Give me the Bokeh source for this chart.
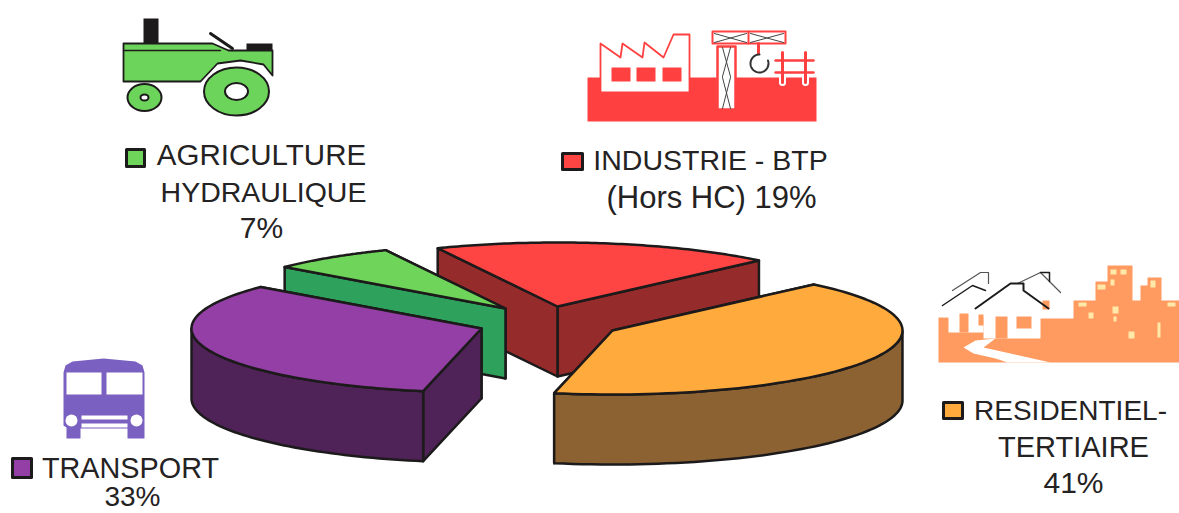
import numpy as np
from bokeh.embed import file_html
from bokeh.models import Range1d
from bokeh.plotting import figure
from bokeh.resources import INLINE
from bokeh.core.properties import value

# ---- data
categories = ["RESIDENTIEL-TERTIAIRE", "TRANSPORT", "AGRICULTURE HYDRAULIQUE", "INDUSTRIE - BTP (Hors HC)"]
shares = [41, 33, 7, 19]

# ---- pie styling / exploded centres
START_ANGLE = 46.0
RX, RY, DEPTH = 290, 64, 70
centres = [(612, 330), (481, 328), (505, 308), (557, 306)]
top_colors = ["#FFAA3C", "#933FA5", "#6FD45A", "#FF4444"]
side_colors = ["#8C6232", "#4F2358", "#2EA25C", "#962B2B"]
INK = "#1c1a1a"
paint_order = [3, 2, 1, 0]

p = figure(width=1179, height=513, output_backend="svg", toolbar_location=None,
           x_range=Range1d(0, 1179), y_range=Range1d(513, 0),
           x_axis_location=None, y_axis_location=None, min_border=0,
           outline_line_color=None, background_fill_color="white", border_fill_color="white")
p.xgrid.visible = False
p.ygrid.visible = False


def poly(pts, fill, line=None, w=1.5):
    xs, ys = zip(*pts)
    p.patch(list(xs), list(ys), fill_color=fill, line_color=line, line_width=w, line_join="round")


def rect(x0, y0, x1, y1, fill, line=None, w=1.5):
    poly([(x0, y0), (x1, y0), (x1, y1), (x0, y1)], fill, line, w)


def seg(pts, color=INK, w=1.5):
    xs, ys = zip(*pts)
    p.line(list(xs), list(ys), line_color=color, line_width=w, line_join="round", line_cap="round")


def oval(x, y, w, h, fill, line=None, lw=1.5):
    p.ellipse([x], [y], width=w, height=h, fill_color=fill, line_color=line, line_width=lw)


# ---- 3D pie: every slice angle comes from the shares
angles = [START_ANGLE]
for s in shares:
    angles.append(angles[-1] - s / sum(shares) * 360)

for i in paint_order:
    cx, cy = centres[i]
    t = np.radians(np.linspace(angles[i], angles[i + 1], 80))
    rx = cx + RX * np.cos(t)
    ry = cy - RY * np.sin(t)
    # radial walls
    for k in (-1, 0):
        poly([(cx, cy), (rx[k], ry[k]), (rx[k], ry[k] + DEPTH), (cx, cy + DEPTH)], side_colors[i], INK, 2.5)
    # outer wall (front half of the rim)
    front = np.sin(t) < 0
    if front.any():
        fx, fy = rx[front], ry[front]
        p.patch(list(fx) + list(fx[::-1]), list(fy) + list(fy[::-1] + DEPTH),
                fill_color=side_colors[i], line_color=INK, line_width=2.5, line_join="round")
    # top face
    p.patch([cx] + list(rx), [cy] + list(ry), fill_color=top_colors[i], line_color=INK,
            line_width=2.5, line_join="round")

# ---- tractor icon
G = "#6CD45A"
rect(143, 18, 158, 44, INK)
rect(246, 43, 272, 50, INK)
seg([(210, 33), (232, 48)], INK, 3)
poly([(123, 43), (212, 43), (228, 50), (272, 50), (272, 75), (263, 64), (240, 60), (217, 63), (200, 81), (123, 81)], G, INK, 1.8)
seg([(123, 50), (220, 50)], INK, 1.5)
oval(144, 97, 34, 27, G, INK, 2)
oval(144, 97, 8, 6, "white", INK, 2)
oval(236, 91, 65, 48, G, INK, 2)
oval(236, 91, 23, 17, "white", INK, 2)

# ---- factory icon
R = "#FF4040"
rect(587, 77, 816, 121, R)
poly([(600, 43), (600, 92), (689, 92), (689, 34), (673, 34), (663, 57), (644, 42), (642, 57), (622, 43), (620, 57)], "white", R, 1.8)
for x0 in (611, 636, 662):
    rect(x0, 67, x0 + 19, 81, R)
rect(717, 46, 735, 109, "white", R, 2.5)
for y0, y1 in ((47, 76), (77, 108)):
    seg([(722, y0), (730, y1)], "#444444", 1)
    seg([(730, y0), (722, y1)], "#444444", 1)
rect(712, 31, 785, 43, "white", R, 2)
seg([(748, 31), (748, 43)], R, 2)
for x0, x1 in ((714, 746), (750, 783)):
    seg([(x0, 33), (x1, 42)], "#444444", 1)
    seg([(x1, 33), (x0, 42)], "#444444", 1)
seg([(758, 43), (758, 53)], R, 3)
hook = np.radians(np.linspace(-20, 270, 40))
seg(list(zip(759 + 9 * np.cos(hook), 63 + 9 * np.sin(hook))), "#333333", 2)
for x0 in (782, 805):
    seg([(x0, 76), (x0, 82)], "white", 7)
    seg([(x0, 52), (x0, 82)], R, 3)
for y0 in (60, 72):
    seg([(775, y0), (813, y0)], R, 2.5)

# ---- city icon
C = "#FF9A60"
poly([(938, 362), (938, 317), (1040, 318), (1073, 318), (1073, 300), (1090, 300), (1095, 300), (1095, 281), (1107, 281),
      (1107, 265), (1132, 265), (1132, 300), (1140, 300), (1140, 285), (1147, 285), (1147, 277), (1161, 277),
      (1161, 300), (1179, 300), (1179, 362)], C)
poly([(1050, 362), (1010, 353), (983, 347), (995, 338), (975, 340), (963, 347), (973, 353), (995, 358), (1007, 362)], "white")
poly([(948, 305), (948, 332), (983, 332), (983, 305), (972, 287)], "white")
rect(959, 313, 968, 332, C)
poly([(983, 310), (983, 338), (1040, 338), (1040, 310), (1010, 285)], "white")
rect(995, 316, 1007, 338, C)
rect(1016, 316, 1031, 328, C)
rect(978, 314, 983, 325, C)
rect(1042, 300, 1049, 309, C)
seg([(952, 290), (980, 272), (988, 272), (988, 283)], "#555555", 1.2)
seg([(1017, 283), (1040, 272), (1060, 292)], "#555555", 1.2)
seg([(1040, 272), (1049, 272), (1049, 281)], INK, 1.5)
seg([(942, 305), (972, 285), (985, 290)], INK, 1.5)
seg([(975, 308), (1010, 283), (1023, 283), (1023, 290), (1048, 308)], INK, 2)
for x0, y0, x1, y1 in ((1110, 269, 1116, 274), (1120, 269, 1126, 274), (1110, 279, 1114, 285), (1097, 284, 1105, 289),
                       (1078, 302, 1086, 306), (1088, 312, 1093, 318), (1112, 306, 1118, 313), (1113, 316, 1116, 321),
                       (1150, 280, 1155, 287), (1157, 322, 1160, 337), (1128, 331, 1134, 338), (1167, 302, 1175, 306)):
    rect(x0, y0, x1, y1, "#FFE9A8")

# ---- bus icon
B = "#7A60C0"
poly([(63, 372), (65, 365), (72, 361), (103, 358), (135, 361), (142, 365), (144, 372), (144, 427), (144, 438), (127, 438),
      (127, 428), (80, 428), (80, 438), (66, 438), (66, 427), (63, 425)], B)
rect(66, 372, 101, 394, "white")
rect(106, 372, 142, 394, "white")
rect(81, 415, 127, 419, "white")
rect(81, 423, 127, 427, "white")
oval(71, 420, 12, 12, "white")
oval(136, 420, 12, 12, "white")

# ---- legend swatches
swatches = [(943, 402, 962, 418, 0), (12, 458, 31, 477, 1), (126, 149, 144, 166, 2), (562, 153, 582, 169, 3)]
for x0, y0, x1, y1, i in swatches:
    rect(x0, y0, x1, y1, top_colors[i], INK, 3)

# ---- text
label_lines = [
    ("AGRICULTURE", 261, 154, 29.5), ("HYDRAULIQUE", 263, 191, 28.5), (f"{shares[2]}%", 261, 227, 30),
    ("INDUSTRIE - BTP", 710, 159, 28.5), (f"(Hors HC) {shares[3]}%", 711, 197, 31),
    ("RESIDENTIEL-", 1070, 410, 28), ("TERTIAIRE", 1073, 446, 29), (f"{shares[0]}%", 1073, 482, 30),
    ("TRANSPORT", 130, 467, 28.8), (f"{shares[1]}%", 132, 496, 28),
]
for txt, x, y, size in label_lines:
    p.text([x], [y], text=[txt], text_font=value("Liberation Sans"), text_font_size=f"{size}px",
           text_color="#242222", text_align="center", text_baseline="middle")

open("out.html", "w").write(file_html(p, INLINE))
